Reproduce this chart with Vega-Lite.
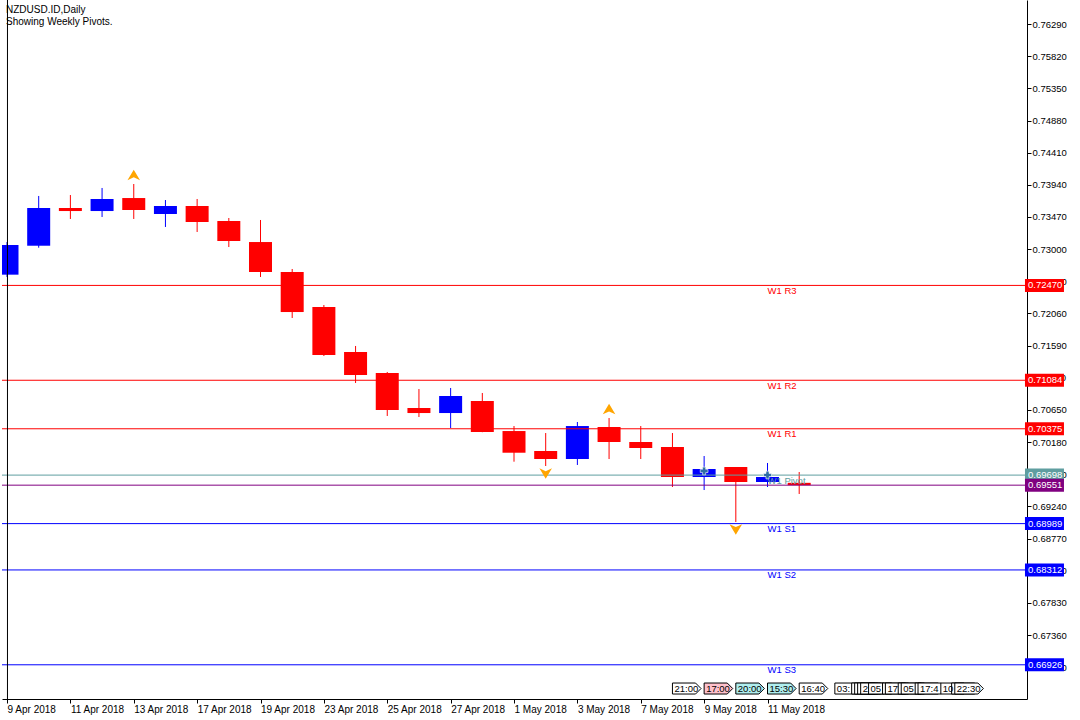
{
  "$schema": "https://vega.github.io/schema/vega-lite/v6.json",
  "width": 1025,
  "height": 699,
  "autosize": {"type": "none"},
  "padding": {"left": 2, "top": 0, "right": 53, "bottom": 21},
  "background": "white",
  "config": {
    "view": {"stroke": null},
    "font": "Liberation Sans",
    "axis": {"labelOverlap": false, "labelFlush": false, "labelBound": false}
  },
  "title": {
    "text": "NZDUSD.ID,Daily",
    "subtitle": "Showing Weekly Pivots.",
    "anchor": "start",
    "frame": "group",
    "orient": "top",
    "offset": -27,
    "dx": 4,
    "font": "Liberation Sans",
    "fontSize": 10,
    "fontWeight": "normal",
    "color": "black",
    "subtitleFont": "Liberation Sans",
    "subtitleFontSize": 10,
    "subtitleColor": "black",
    "subtitlePadding": 2
  },
  "datasets": {
    "candles": [
      {"i": 0, "date": "2018-04-09", "open": 0.72627, "high": 0.73104, "low": 0.72593, "close": 0.73061},
      {"i": 1, "date": "2018-04-10", "open": 0.73050, "high": 0.73777, "low": 0.73021, "close": 0.73601},
      {"i": 2, "date": "2018-04-11", "open": 0.73601, "high": 0.73791, "low": 0.73441, "close": 0.73557},
      {"i": 3, "date": "2018-04-12", "open": 0.73557, "high": 0.73894, "low": 0.73470, "close": 0.73733},
      {"i": 4, "date": "2018-04-13", "open": 0.73747, "high": 0.73952, "low": 0.73441, "close": 0.73572},
      {"i": 5, "date": "2018-04-16", "open": 0.73514, "high": 0.73718, "low": 0.73324, "close": 0.73631},
      {"i": 6, "date": "2018-04-17", "open": 0.73631, "high": 0.73733, "low": 0.73251, "close": 0.73397},
      {"i": 7, "date": "2018-04-18", "open": 0.73411, "high": 0.73455, "low": 0.73031, "close": 0.73119},
      {"i": 8, "date": "2018-04-19", "open": 0.73104, "high": 0.73426, "low": 0.72593, "close": 0.72666},
      {"i": 9, "date": "2018-04-20", "open": 0.72666, "high": 0.72710, "low": 0.71994, "close": 0.72081},
      {"i": 10, "date": "2018-04-23", "open": 0.72155, "high": 0.72184, "low": 0.71438, "close": 0.71453},
      {"i": 11, "date": "2018-04-24", "open": 0.71497, "high": 0.71585, "low": 0.71044, "close": 0.71161},
      {"i": 12, "date": "2018-04-25", "open": 0.71190, "high": 0.71205, "low": 0.70562, "close": 0.70649},
      {"i": 13, "date": "2018-04-26", "open": 0.70679, "high": 0.70956, "low": 0.70547, "close": 0.70605},
      {"i": 14, "date": "2018-04-27", "open": 0.70605, "high": 0.70971, "low": 0.70386, "close": 0.70854},
      {"i": 15, "date": "2018-04-30", "open": 0.70781, "high": 0.70898, "low": 0.70325, "close": 0.70328},
      {"i": 16, "date": "2018-05-01", "open": 0.70342, "high": 0.70415, "low": 0.69894, "close": 0.70025},
      {"i": 17, "date": "2018-05-02", "open": 0.70050, "high": 0.70313, "low": 0.69831, "close": 0.69933},
      {"i": 18, "date": "2018-05-03", "open": 0.69933, "high": 0.70474, "low": 0.69846, "close": 0.70415},
      {"i": 19, "date": "2018-05-04", "open": 0.70401, "high": 0.70532, "low": 0.69933, "close": 0.70182},
      {"i": 20, "date": "2018-05-07", "open": 0.70182, "high": 0.70415, "low": 0.69933, "close": 0.70094},
      {"i": 21, "date": "2018-05-08", "open": 0.70109, "high": 0.70313, "low": 0.69524, "close": 0.69670},
      {"i": 22, "date": "2018-05-09", "open": 0.69670, "high": 0.69977, "low": 0.69480, "close": 0.69787},
      {"i": 23, "date": "2018-05-10", "open": 0.69816, "high": 0.69816, "low": 0.69013, "close": 0.69597},
      {"i": 24, "date": "2018-05-11", "open": 0.69597, "high": 0.69875, "low": 0.69524, "close": 0.69670},
      {"i": 25, "date": "2018-05-14", "open": 0.69585, "high": 0.69743, "low": 0.69422, "close": 0.69551}
    ],
    "pivots": [
      {"level": "R3", "label": "W1 R3", "price": 0.72470},
      {"level": "R2", "label": "W1 R2", "price": 0.71084},
      {"level": "R1", "label": "W1 R1", "price": 0.70375},
      {"level": "Pivot", "label": "W1 Pivot", "price": 0.69698},
      {"level": "Bid", "label": "", "price": 0.69551},
      {"level": "S1", "label": "W1 S1", "price": 0.68989},
      {"level": "S2", "label": "W1 S2", "price": 0.68312},
      {"level": "S3", "label": "W1 S3", "price": 0.66926}
    ],
    "fractals": [
      {"i": 4, "price": 0.73952, "type": "up"},
      {"i": 17, "price": 0.69831, "type": "down"},
      {"i": 19, "price": 0.70532, "type": "up"},
      {"i": 23, "price": 0.69013, "type": "down"}
    ],
    "markers": [
      {"i": 22, "price": 0.69758},
      {"i": 24, "price": 0.69699}
    ],
    "sessions": [
      {"i": 21.0, "txt": "21:00", "tone": "plain"},
      {"i": 22.0, "txt": "17:00", "tone": "pink"},
      {"i": 23.0, "txt": "20:00", "tone": "cyan"},
      {"i": 24.0, "txt": "15:30", "tone": "cyan"},
      {"i": 25.0, "txt": "16:40", "tone": "plain"},
      {"i": 26.125, "txt": "03:", "tone": "plain"},
      {"i": 26.656, "txt": "", "tone": "plain"},
      {"i": 26.75, "txt": "", "tone": "plain"},
      {"i": 26.844, "txt": "", "tone": "plain"},
      {"i": 26.94, "txt": "2", "tone": "plain"},
      {"i": 27.19, "txt": "05", "tone": "plain"},
      {"i": 27.63, "txt": "", "tone": "plain"},
      {"i": 27.72, "txt": "17", "tone": "plain"},
      {"i": 28.125, "txt": "", "tone": "plain"},
      {"i": 28.22, "txt": "05", "tone": "plain"},
      {"i": 28.66, "txt": "", "tone": "plain"},
      {"i": 28.75, "txt": "17:4", "tone": "plain"},
      {"i": 29.47, "txt": "10", "tone": "plain"},
      {"i": 29.81, "txt": "", "tone": "plain"},
      {"i": 29.91, "txt": "22:30", "tone": "plain"}
    ],
    "frame": [{"side": "left"}]
  },
  "layer": [
    {
      "data": {"name": "candles"},
      "mark": {"type": "rule", "clip": true, "strokeWidth": 1},
      "encoding": {
        "x": {
          "field": "i", "type": "quantitative",
          "scale": {"domain": [0, 32.03125], "nice": false, "zero": false},
          "axis": {
            "orient": "bottom", "title": null, "grid": false, "tickCount": 40,
            "values": [0, 2, 4, 6, 8, 10, 12, 14, 16, 18, 20, 22, 24],
            "labelExpr": "['9 Apr 2018','','11 Apr 2018','','13 Apr 2018','','17 Apr 2018','','19 Apr 2018','','23 Apr 2018','','25 Apr 2018','','27 Apr 2018','','1 May 2018','','3 May 2018','','7 May 2018','','9 May 2018','','11 May 2018'][datum.value]",
            "labelAlign": "left", "labelBaseline": "top", "labelPadding": 1,
            "labelFont": "Liberation Sans", "labelFontSize": 10, "labelColor": "black",
            "labelFlush": false, "labelOverlap": false, "labelBound": false,
            "tickSize": 4, "tickColor": "black", "domainColor": "black"
          }
        },
        "y": {
          "field": "low", "type": "quantitative",
          "scale": {"domain": [0.66426, 0.76641], "nice": false, "zero": false},
          "axis": {
            "orient": "right", "title": null, "grid": false, "tickCount": 40,
            "values": [0.7629, 0.7582, 0.7535, 0.7488, 0.7441, 0.7394, 0.7347, 0.73, 0.7253, 0.7206, 0.7159, 0.7112, 0.7065, 0.7018, 0.6971, 0.6924, 0.6877, 0.683, 0.6783, 0.6736, 0.6689],
            "format": ".5f",
            "labelFont": "Liberation Sans", "labelFontSize": 9.5, "labelColor": "black",
            "labelPadding": 1, "labelFlush": false, "labelOverlap": false, "labelBound": false,
            "tickSize": 4, "tickColor": "black", "domainColor": "black"
          }
        },
        "y2": {"field": "high"},
        "color": {"condition": {"test": "datum.close > datum.open", "value": "#0000FF"}, "value": "#FF0000"}
      }
    },
    {
      "data": {"name": "candles"},
      "mark": {"type": "bar", "width": 23, "clip": true},
      "encoding": {
        "x": {"field": "i", "type": "quantitative"},
        "y": {"field": "open", "type": "quantitative"},
        "y2": {"field": "close"},
        "color": {"condition": {"test": "datum.close > datum.open", "value": "#0000FF"}, "value": "#FF0000"}
      }
    },
    {
      "data": {"name": "pivots"},
      "mark": {"type": "rule", "strokeWidth": 1},
      "encoding": {
        "y": {"field": "price", "type": "quantitative"},
        "color": {
          "field": "level", "type": "nominal", "legend": null,
          "scale": {"domain": ["R3", "R2", "R1", "Pivot", "Bid", "S1", "S2", "S3"],
                    "range": ["#FF0000", "#FF0000", "#FF0000", "#5F9EA0", "#800080", "#0000FF", "#0000FF", "#0000FF"]}
        }
      }
    },
    {
      "data": {"name": "pivots"},
      "mark": {"type": "text", "align": "left", "baseline": "alphabetic", "dy": 8.5, "fontSize": 9.5, "font": "Liberation Sans"},
      "encoding": {
        "x": {"datum": 24, "type": "quantitative"},
        "y": {"field": "price", "type": "quantitative"},
        "text": {"field": "label"},
        "color": {"field": "level", "type": "nominal", "legend": null}
      }
    },
    {
      "data": {"name": "pivots"},
      "mark": {"type": "point", "shape": "M0,-1L6,-1L6,1L0,1Z", "size": 169, "filled": true, "opacity": 1, "strokeWidth": 0, "clip": false},
      "encoding": {
        "x": {"datum": 32.125, "type": "quantitative"},
        "y": {"field": "price", "type": "quantitative"},
        "color": {"field": "level", "type": "nominal", "legend": null}
      }
    },
    {
      "data": {"name": "pivots"},
      "mark": {"type": "text", "align": "left", "baseline": "middle", "fontSize": 9.5, "font": "Liberation Sans", "color": "white", "clip": false},
      "encoding": {
        "x": {"datum": 32.22, "type": "quantitative"},
        "y": {"field": "price", "type": "quantitative"},
        "text": {"field": "price", "type": "quantitative", "format": ".5f"}
      }
    },
    {
      "data": {"name": "fractals"},
      "transform": [{"filter": "datum.type == 'up'"}],
      "mark": {"type": "point", "shape": "M0,-1L1.2,1L0,0.45L-1.2,1Z", "size": 110, "filled": true, "opacity": 1, "color": "#FFA500", "yOffset": -9},
      "encoding": {
        "x": {"field": "i", "type": "quantitative"},
        "y": {"field": "price", "type": "quantitative"}
      }
    },
    {
      "data": {"name": "fractals"},
      "transform": [{"filter": "datum.type == 'down'"}],
      "mark": {"type": "point", "shape": "M0,1L1.2,-1L0,-0.45L-1.2,-1Z", "size": 110, "filled": true, "opacity": 1, "color": "#FFA500", "yOffset": 7.5},
      "encoding": {
        "x": {"field": "i", "type": "quantitative"},
        "y": {"field": "price", "type": "quantitative"}
      }
    },
    {
      "data": {"name": "markers"},
      "mark": {"type": "point", "shape": "cross", "size": 60, "filled": true, "opacity": 1, "fill": "#2E6DA4", "stroke": "white", "strokeWidth": 0.6},
      "encoding": {
        "x": {"field": "i", "type": "quantitative"},
        "y": {"field": "price", "type": "quantitative"}
      }
    },
    {
      "data": {"name": "sessions"},
      "mark": {"type": "point", "shape": "M0,-1L4.2,-1L5.2,0L4.2,1L0,1Z", "size": 121, "filled": true, "opacity": 1, "stroke": "black", "strokeWidth": 1, "clip": false},
      "encoding": {
        "x": {"field": "i", "type": "quantitative"},
        "y": {"datum": 0.66579, "type": "quantitative"},
        "fill": {
          "field": "tone", "type": "nominal", "legend": null,
          "scale": {"domain": ["plain", "pink", "cyan"], "range": ["#FFFFFF", "#FFC0CB", "#AFEEEE"]}
        }
      }
    },
    {
      "data": {"name": "sessions"},
      "mark": {"type": "text", "align": "left", "baseline": "middle", "dx": 2, "fontSize": 9.5, "font": "Liberation Sans", "color": "black"},
      "encoding": {
        "x": {"field": "i", "type": "quantitative"},
        "y": {"datum": 0.66579, "type": "quantitative"},
        "text": {"field": "txt"}
      }
    },
    {
      "data": {"name": "frame"},
      "mark": {"type": "rule", "color": "black", "strokeWidth": 1},
      "encoding": {
        "x": {"datum": 0.015, "type": "quantitative"}
      }
    }
  ]
}
